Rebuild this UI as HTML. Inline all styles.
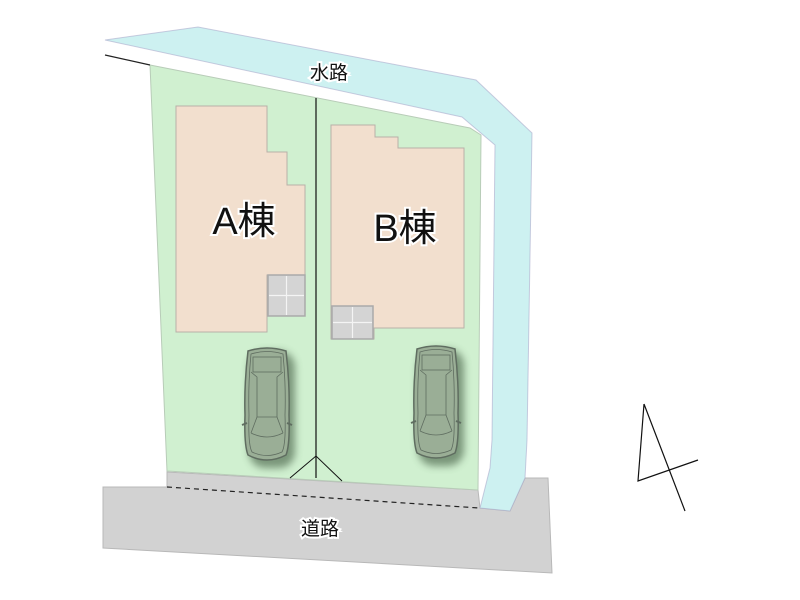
<!DOCTYPE html>
<html><head><meta charset="utf-8"><style>html,body{margin:0;padding:0;background:#fff}svg{display:block}</style></head>
<body>
<svg width="800" height="600" viewBox="0 0 800 600" xmlns="http://www.w3.org/2000/svg">
<defs>
<filter id="sh" x="-50%" y="-20%" width="200%" height="150%"><feGaussianBlur stdDeviation="4"/></filter>
<g id="car">
<rect x="5" y="6" width="46" height="117" rx="16" fill="#3f5a3f" opacity="0.6" filter="url(#sh)"/>
<path d="M4,6 Q23,0 42,6 Q46,40 45,70 Q46,100 42,110 Q23,120 4,110 Q0,100 1,70 Q0,40 4,6Z" fill="#9aae96" stroke="#5f6d60" stroke-width="1.5"/>
<path d="M7,9 Q23,4 39,9 Q42,40 41,70 Q42,100 38,107 Q23,114 8,107 Q4,100 5,70 Q4,40 7,9Z" fill="none" stroke="#5f6d60" stroke-width="0.8"/>
<rect x="9" y="12" width="28" height="15" fill="none" stroke="#5f6d60" stroke-width="0.8"/>
<path d="M7,27 L13,32 L13,72 L7,88 M39,27 L33,32 L33,72 L39,88 M13,72 L33,72 M7,88 Q23,96 39,88" fill="none" stroke="#5f6d60" stroke-width="0.8"/>
<path d="M-2,80 L3,78 M48,80 L43,78" stroke="#5f6d60" stroke-width="2"/>
</g>
</defs>
<polygon points="103,487 167,487 167,472 478,490 480,508 510,511 525,478 548,478 552,573 103,548" fill="#d2d2d2" stroke="#b8b8b8" stroke-width="1"/>
<polygon points="105,40 198,27 476,80 532,133 527,440 525,478 510,511 480,508 490,468 492,440 495,145 462,117" fill="#cdf1f1" stroke="#aac" stroke-width="1" stroke-opacity="0.6"/>
<polygon points="150,65 470,128 481,135 478,490 167,471" fill="#d0f0d0" stroke="#b8ccb8" stroke-width="1"/>
<line x1="105" y1="55" x2="150" y2="65" stroke="#222" stroke-width="1.2"/>
<polygon points="176,106 267,106 267,152 287,152 287,185 305,185 305,275 267,275 267,332 176,332" fill="#f2dfce" stroke="#b9b0a8" stroke-width="1"/>
<rect x="268" y="275" width="37" height="41" fill="#d4d4d4" stroke="#aaa" stroke-width="1.5"/>
<path d="M286.5,276 V315 M269,295.5 H304" stroke="#f4f4f4" stroke-width="1.2"/>
<polygon points="331,125 375,125 375,137 398,137 398,148 464,148 464,328 374,328 374,339 331,339" fill="#f2dfce" stroke="#b9b0a8" stroke-width="1"/>
<rect x="332" y="306" width="41" height="33" fill="#d4d4d4" stroke="#aaa" stroke-width="1.5"/>
<path d="M352.5,307 V338 M333,322.5 H372" stroke="#f4f4f4" stroke-width="1.2"/>
<line x1="316" y1="98" x2="316" y2="478" stroke="#111" stroke-width="1.2"/>
<path d="M290,478 L316,456 L342,481" fill="none" stroke="#111" stroke-width="1"/>
<line x1="167" y1="487" x2="479" y2="508" stroke="#222" stroke-width="1.2" stroke-dasharray="5,4"/>
<use href="#car" x="244" y="345"/>
<use href="#car" x="413" y="343"/>
<path d="M644,404 L638,481 L698,460 M644,404 L685,511" fill="none" stroke="#111" stroke-width="1.2"/>
<g font-family="'Liberation Sans','Noto Sans CJK JP',sans-serif" fill="#111" stroke="#fff" stroke-width="4" paint-order="stroke" text-anchor="middle">
<text x="329" y="79" font-size="19">水路</text>
<text x="320" y="535" font-size="19">道路</text>
<text x="244" y="234" font-size="38">A棟</text>
<text x="405" y="241" font-size="38">B棟</text>
</g>
</svg>
</body></html>
